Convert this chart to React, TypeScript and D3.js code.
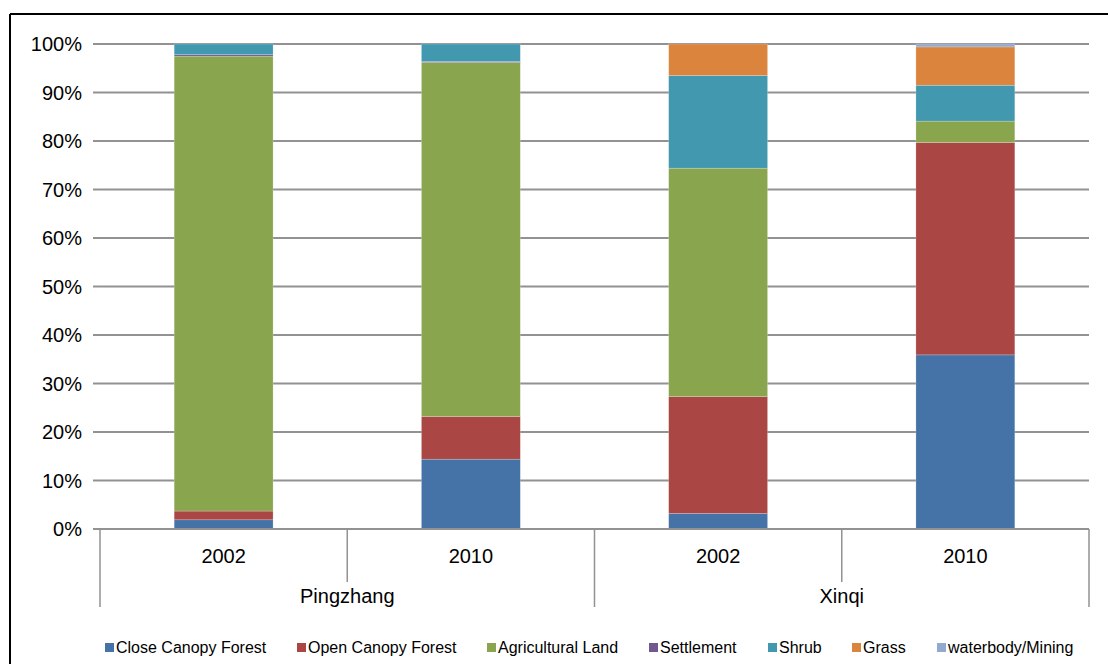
import React from "react";
import * as d3 from "d3";

const groups = ["Pingzhang", "Xinqi"];
const years = ["2002", "2010"];
const seriesNames = [
  "Close Canopy Forest",
  "Open Canopy Forest",
  "Agricultural Land",
  "Settlement",
  "Shrub",
  "Grass",
  "waterbody/Mining",
];
const seriesColors = ["#4572A7", "#AA4643", "#89A54E", "#71588F", "#4198AF", "#DB843D", "#93A9CF"];
// values per bar: Pingzhang 2002, Pingzhang 2010, Xinqi 2002, Xinqi 2010
const closeCanopy = [1.9, 14.4, 3.2, 35.9];
const openCanopy = [1.8, 8.8, 24.1, 43.8];
const agricultural = [93.8, 73.0, 47.1, 4.4];
const settlement = [0.3, 0.2, 0.0, 0.0];
const shrub = [2.2, 3.6, 19.1, 7.4];
const grass = [0.0, 0.0, 6.5, 7.9];
const waterbody = [0.0, 0.0, 0.0, 0.6];
const yTicks = [0, 10, 20, 30, 40, 50, 60, 70, 80, 90, 100];

const seriesValues = [closeCanopy, openCanopy, agricultural, settlement, shrub, grass, waterbody];

export default function App() {
  const W = 1108, H = 664;
  const x0 = 100, x1 = 1089, yTop = 44, yBot = 529;
  const bars = groups.flatMap((g) => years.map((y) => ({ g, y, key: g + "-" + y })));
  const table = bars.map((b, i) => {
    const row: any = { key: b.key };
    seriesNames.forEach((s, j) => (row[s] = seriesValues[j][i]));
    return row;
  });
  const stack = d3.stack<any>().keys(seriesNames)(table);
  const x = d3.scaleBand<string>().domain(bars.map((b) => b.key)).range([x0, x1]).paddingInner(0).paddingOuter(0);
  const bw = x.bandwidth() * 0.4;
  const yS = d3.scaleLinear().domain([0, 100]).range([yBot, yTop]);
  const font = "Arial, 'Liberation Sans', sans-serif";
  const bandW = x.bandwidth();

  return (
    <svg width={W} height={H} style={{ position: "absolute", left: 0, top: 0 }}>
      <rect x={0} y={0} width={W} height={H} fill="#fff" />
      <line x1={10} y1={14} x2={W} y2={14} stroke="#000" strokeWidth={2} />
      <line x1={10} y1={14} x2={10} y2={H} stroke="#000" strokeWidth={2} />
      {yTicks.map((t) => (
        <g key={t}>
          <line x1={x0} x2={x1} y1={yS(t)} y2={yS(t)} stroke="#929292" strokeWidth={2} />
          <line x1={93} x2={x0} y1={yS(t)} y2={yS(t)} stroke="#929292" strokeWidth={2} />
          <text x={82} y={yS(t)} dy="0.35em" textAnchor="end" fontSize={20} fontFamily={font} fill="#000">
            {t + "%"}
          </text>
        </g>
      ))}
      {stack.map((layer, si) =>
        layer.map((d, i) => {
          const h = yS(d[0]) - yS(d[1]);
          if (h <= 0) return null;
          const cx = (x(bars[i].key) as number) + bandW / 2;
          return (
            <rect
              key={si + "-" + i}
              x={cx - bw / 2}
              y={yS(d[1])}
              width={bw}
              height={h}
              fill={seriesColors[si]}
              stroke="rgba(255,255,255,0.35)"
              strokeWidth={0.6}
            />
          );
        })
      )}
      <line x1={x0} x2={x1} y1={yBot} y2={yBot} stroke="#929292" strokeWidth={2} />
      {bars.map((b) => {
        const left = x(b.key) as number;
        return (
          <text key={b.key} x={left + bandW / 2} y={556} dy="0.35em" textAnchor="middle" fontSize={20} fontFamily={font}>
            {b.y}
          </text>
        );
      })}
      {d3.range(bars.length + 1).map((i) => {
        const xx = x0 + i * bandW;
        const long = i % years.length === 0;
        return <line key={i} x1={xx} x2={xx} y1={yBot} y2={long ? 607 : 582} stroke="#929292" strokeWidth={1.5} />;
      })}
      {groups.map((g, gi) => {
        const cx = x0 + bandW * years.length * (gi + 0.5);
        return (
          <text key={g} x={cx} y={596} dy="0.35em" textAnchor="middle" fontSize={20} fontFamily={font}>
            {g}
          </text>
        );
      })}
      {(() => {
        const starts = [105, 297, 487, 649, 768, 852, 937];
        return seriesNames.map((s, i) => (
          <g key={s}>
            <rect x={starts[i]} y={643} width={9} height={9} fill={seriesColors[i]} />
            <text x={starts[i] + 11} y={647.5} dy="0.35em" fontSize={16} fontFamily={font} fill="#000">
              {s}
            </text>
          </g>
        ));
      })()}
    </svg>
  );
}
